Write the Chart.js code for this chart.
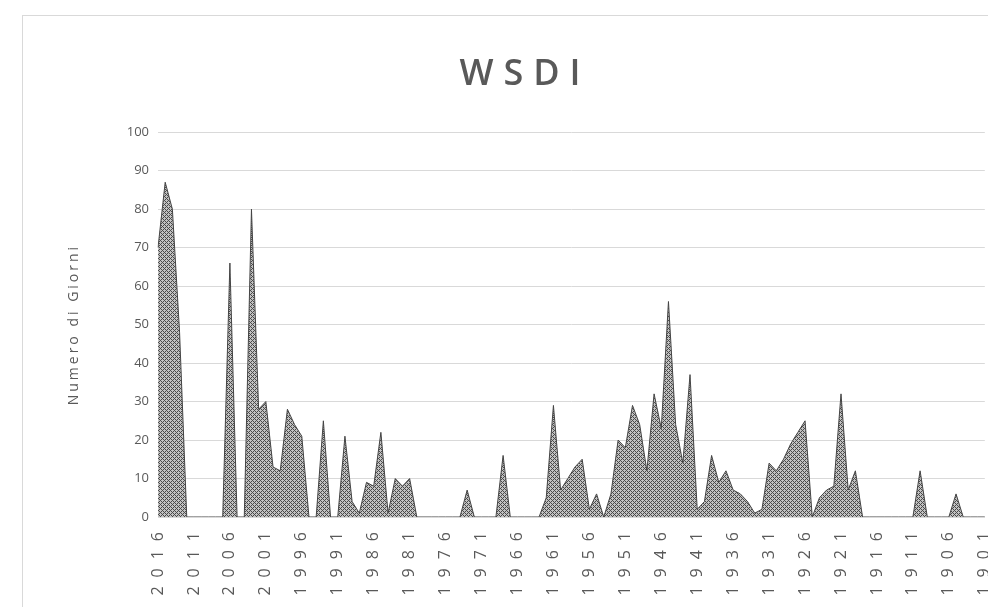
<!DOCTYPE html>
<html><head><meta charset="utf-8">
<script src="https://cdn.jsdelivr.net/npm/chart.js@4.4.1/dist/chart.umd.min.js"></script>
<style>
html,body{margin:0;padding:0;background:#fff;overflow:hidden;width:988px;height:607px;}
#frame{position:absolute;left:22px;top:15px;width:1000px;height:640px;border:1px solid #d9d9d9;box-sizing:border-box;}
#wrap{position:absolute;left:0;top:0;width:1010px;height:607px;}
</style></head><body>
<div id="frame"></div>
<div id="wrap"><canvas id="c" width="1010" height="607"></canvas></div>
<script>
// Categories: years from 2016 back to 1901
const years = Array.from({length: 116}, (_, i) => String(2016 - i));
// Labelled years on the category axis
const tickYears = ['2016','2011','2006','2001','1996','1991','1986','1981','1976','1971','1966','1961','1956','1951','1946','1941','1936','1931','1926','1921','1916','1911','1906','1901'];
// WSDI values (days), same order as years
const wsdi = [
  70, 87, 80, 48, 0, 0, 0, 0, 0, 0,
  66, 0, 0, 80, 28, 30, 13, 12, 28, 24,
  21, 0, 0, 25, 0, 0, 21, 4, 1, 9,
  8, 22, 1, 10, 8, 10, 0, 0, 0, 0,
  0, 0, 0, 7, 0, 0, 0, 0, 16, 0,
  0, 0, 0, 0, 5, 29, 7, 10, 13, 15,
  2, 6, 0, 6, 20, 18, 29, 24, 12, 32,
  23, 56, 24, 14, 37, 2, 4, 16, 9, 12,
  7, 6, 4, 1, 2, 14, 12, 15, 19, 22,
  25, 0, 5, 7, 8, 32, 7, 12, 0, 0,
  0, 0, 0, 0, 0, 0, 12, 0, 0, 0,
  0, 6, 0, 0, 0, 0
];
const yTickValues = [0, 10, 20, 30, 40, 50, 60, 70, 80, 90, 100];
const chartTitle = 'WSDI';
const yAxisTitle = 'Numero di Giorni';

function makePattern() {
  const n = 4;
  const pc = document.createElement('canvas');
  pc.width = n; pc.height = n;
  const p = pc.getContext('2d');
  p.fillStyle = '#c2c2c2';
  p.fillRect(0, 0, n, n);
  p.fillStyle = '#4a4a4a';
  for (let x = 0; x < n; x++) for (let y = 0; y < n; y++) {
    if ((x + y) % n === 0 || (x - y + n) % n === 0) p.fillRect(x, y, 1, 1);
  }
  return p.createPattern(pc, 'repeat');
}

const spacingPlugin = {
  id: 'spacing',
  beforeDraw(chart) {
    if (chart._spPatched) return;
    chart._spPatched = true;
    const ctx = chart.ctx;
    const wrap = (obj, fn, sp) => {
      if (!obj || !obj[fn]) return;
      const orig = obj[fn];
      obj[fn] = function (...a) {
        ctx.save();
        ctx.letterSpacing = sp;
        const r = orig.apply(this, a);
        ctx.restore();
        return r;
      };
    };
    wrap(chart.scales.x, 'drawLabels', '9px');
    wrap(chart.scales.y, 'drawTitle', '3px');
    wrap(chart.titleBlock, 'draw', '10px');
  }
};

const gray = '#595959';
new Chart(document.getElementById('c'), {
  type: 'line',
  data: {
    labels: years,
    datasets: [{
      data: wsdi,
      fill: 'origin',
      backgroundColor: makePattern(),
      borderColor: '#454545',
      borderWidth: 1,
      pointRadius: 0,
      tension: 0
    }]
  },
  options: {
    responsive: false,
    animation: false,
    layout: { padding: { left: 62, right: 22, top: 0, bottom: 0 } },
    plugins: {
      legend: { display: false },
      tooltip: { enabled: false },
      title: {
        display: true,
        text: chartTitle,
        color: gray,
        font: { family: 'Open Sans', size: 36, weight: '600', lineHeight: 1.2 },
        padding: { top: 53, bottom: 36 }
      }
    },
    scales: {
      x: {
        grid: { display: false, drawTicks: false },
        border: { display: true, color: '#d9d9d9' },
        ticks: {
          autoSkip: false,
          maxRotation: 90,
          minRotation: 90,
          padding: 6,
          color: gray,
          font: { family: 'Open Sans', size: 16 },
          callback: function (v, i) { return tickYears.includes(years[i]) ? years[i] : ''; }
        },
        afterFit: function (s) { s.height = 90; }
      },
      y: {
        min: 0,
        max: 100,
        grid: { color: '#d9d9d9', drawTicks: false },
        border: { display: false },
        afterBuildTicks: function (s) { s.ticks = yTickValues.map(v => ({ value: v })); },
        ticks: {
          padding: 9,
          color: gray,
          font: { family: 'Open Sans', size: 13 }
        },
        title: {
          display: true,
          text: yAxisTitle,
          color: gray,
          font: { family: 'Open Sans', size: 14 },
          padding: { top: 4, bottom: 0 }
        },
        afterFit: function (s) { s.width = 96; }
      }
    }
  },
  plugins: [spacingPlugin]
});
</script>
</body></html>
